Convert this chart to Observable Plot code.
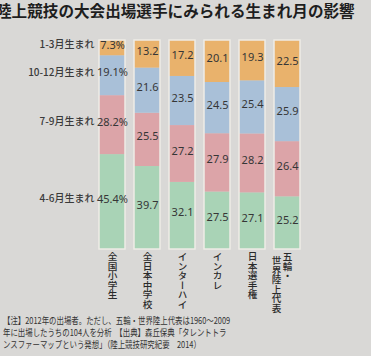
<!DOCTYPE html>
<html><head><meta charset="utf-8">
<script src="https://cdn.jsdelivr.net/npm/d3@7"></script>
<script src="https://cdn.jsdelivr.net/npm/@observablehq/plot@0.6"></script>
<style>
html,body{margin:0;padding:0;background:#d9d8d6;}
body{width:371px;height:356px;overflow:hidden;font-family:"Noto Sans CJK JP",sans-serif;}
#title{height:26px;margin-left:-4px;font-size:15.6px;font-weight:700;line-height:20px;color:#1e1e1e;white-space:nowrap;}
#chart svg{display:block;overflow:visible;}
#note{height:42px;margin-left:3px;overflow:visible;}
#note div{transform:scaleX(0.78);transform-origin:left top;font-size:9.5px;line-height:12px;color:#333;white-space:nowrap;}
</style></head>
<body>
<div id="title">陸上競技の大会出場選手にみられる生まれ月の影響</div>
<div id="chart"></div>
<div id="note"><div>【注】2012年の出場者。ただし、五輪・世界陸上代表は1960～2009<br>年に出場したうちの104人を分析　【出典】森丘保典「タレントトラ<br>ンスファーマップという発想」（陸上競技研究紀要　2014）</div></div>
<script>
const categories = ["全国小学生","全日本中学校","インターハイ","インカレ","日本選手権","五輪・\n世界陸上代表"];
const series = ["4-6月生まれ","7-9月生まれ","10-12月生まれ","1-3月生まれ"];
const colors = ["#a9d3b6","#dca4a8","#a9c0d8","#e9b26c"];
const aprJun = [45.4,39.7,32.1,27.5,27.1,25.2];
const julSep = [28.2,25.5,27.2,27.9,28.2,26.4];
const octDec = [19.1,21.6,23.5,24.5,25.4,25.9];
const janMar = [7.3,13.2,17.2,20.1,19.3,22.5];
const values = [aprJun, julSep, octDec, janMar];

const rows = series.flatMap((s,i)=>categories.map((c,j)=>({
  category:c, series:s, value:values[i][j],
  label: j===0 ? values[i][j].toFixed(1)+"%" : values[i][j].toFixed(1)
})));
const catLines = categories.flatMap(c=>c.split("\n").map((t,k)=>({category:c, text:t, line:k})));
const catTexts = new Set(catLines.map(d=>d.text));
const numFont = "'Liberation Sans Narrow','Noto Sans',sans-serif";
const jpFont = "'Noto Sans CJK JP',sans-serif";

const chart = Plot.plot({
  width:371, height:288, marginTop:14, marginBottom:65, marginLeft:97, marginRight:70,
  style:{background:"transparent", fontFamily:jpFont, overflow:"visible"},
  x:{domain:categories, paddingInner:0.27, paddingOuter:0, axis:null},
  y:{domain:[0,100], axis:null},
  color:{domain:series, range:colors},
  marks:[
    Plot.barY(rows, Plot.stackY({x:"category", y:"value", z:"series", fill:"series"})),
    Plot.barY(rows, Plot.groupX({y:"sum"}, {x:"category", y:"value", fill:"none", stroke:"#eeebe6", strokeWidth:1.5})),
    Plot.text(rows, Plot.stackY({x:"category", y:"value", z:"series", text:"label", dy:-3, fontSize:11, fill:"#363636", fontFamily:numFont})),
    Plot.text(rows.filter(d=>d.category===categories[0]), Plot.stackY({x:"category", y:"value", z:"series", text:"series", textAnchor:"end", dx:-18, dy:-3, fontSize:10, fontWeight:500, fill:"#3a3a3a", fontFamily:jpFont})),
    Plot.text(catLines.filter(d=>d.line===0), {x:"category", text:"text", frameAnchor:"bottom", dy:2, fontSize:9.6, fontWeight:500, fill:"#2a2a2a"}),
    Plot.text(catLines.filter(d=>d.line===1), {x:"category", text:"text", frameAnchor:"bottom", dx:-11, dy:6, fontSize:9.6, fontWeight:500, fill:"#2a2a2a"})
  ]
});
d3.select(chart).selectAll("text")
  .filter(function(){ return catTexts.has(this.textContent); })
  .attr("dy", null)
  .attr("text-anchor","start")
  .attr("writing-mode","vertical-rl")
  .style("writing-mode","vertical-rl")
  .style("text-orientation","mixed");
document.getElementById("chart").appendChild(chart);
</script>
</body></html>
